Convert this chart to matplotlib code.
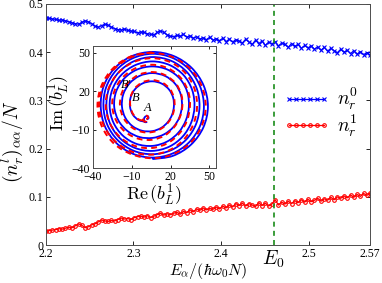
import matplotlib.pyplot as plt
import numpy as np
from matplotlib.path import Path
from matplotlib.patches import PathPatch

plt.rcParams['mathtext.fontset'] = 'cm'
plt.rcParams['font.family'] = 'Liberation Serif'

# main panel: occupation vs energy
e_min, e_max = 2.2, 2.57
n_r0 = [0.471, 0.470, 0.469, 0.468, 0.466, 0.467, 0.465, 0.463, 0.461, 0.459,
        0.458, 0.462, 0.465, 0.463, 0.459, 0.454, 0.452, 0.455, 0.458, 0.456,
        0.452, 0.449, 0.447, 0.446, 0.448, 0.445, 0.444, 0.443, 0.440, 0.442,
        0.441, 0.438, 0.437, 0.436, 0.441, 0.444, 0.441, 0.436, 0.433, 0.432,
        0.435, 0.433, 0.437, 0.431, 0.434, 0.429, 0.432, 0.427, 0.430, 0.426,
        0.431, 0.425, 0.428, 0.424, 0.429, 0.422, 0.427, 0.421, 0.426, 0.423,
        0.419, 0.427, 0.421, 0.416, 0.425, 0.418, 0.423, 0.414, 0.421, 0.417,
        0.422, 0.413, 0.419, 0.416, 0.410, 0.418, 0.412, 0.416, 0.408, 0.414,
        0.409, 0.413, 0.406, 0.411, 0.404, 0.410, 0.402, 0.408, 0.403, 0.399,
        0.406, 0.400, 0.404, 0.397, 0.403, 0.396, 0.401, 0.395, 0.399, 0.394]
n_r1 = [0.029, 0.030, 0.031, 0.032, 0.034, 0.033, 0.035, 0.037, 0.036, 0.040,
        0.044, 0.041, 0.036, 0.038, 0.042, 0.044, 0.048, 0.052, 0.050, 0.049,
        0.051, 0.050, 0.053, 0.056, 0.054, 0.055, 0.053, 0.057, 0.059, 0.060,
        0.058, 0.061, 0.057, 0.060, 0.063, 0.066, 0.062, 0.065, 0.063, 0.066,
        0.068, 0.064, 0.070, 0.067, 0.073, 0.069, 0.075, 0.072, 0.077, 0.073,
        0.076, 0.074, 0.079, 0.075, 0.081, 0.077, 0.083, 0.079, 0.086, 0.082,
        0.087, 0.081, 0.086, 0.083, 0.080, 0.088, 0.082, 0.087, 0.081, 0.085,
        0.094, 0.083, 0.089, 0.085, 0.091, 0.086, 0.092, 0.088, 0.094, 0.089,
        0.095, 0.090, 0.093, 0.097, 0.091, 0.096, 0.093, 0.099, 0.094, 0.100,
        0.097, 0.102, 0.098, 0.104, 0.099, 0.105, 0.101, 0.107, 0.103, 0.108]
energy = np.linspace(e_min, e_max, len(n_r0))
E0 = 2.46
xticks = [2.2, 2.3, 2.4, 2.5, 2.57]
xticklabels = ['2.2', '2.3', '2.4', '2.5', '2.57']
yticks = [0, 0.1, 0.2, 0.3, 0.4, 0.5]
yticklabels = ['0', '0.1', '0.2', '0.3', '0.4', '0.5']

# inset: trajectories in the b_L^1 plane, radius read every 22.5 deg (clockwise)
center = (6.0, 8.0)
start_angle = 247.5
blue_r = [13, 15, 16.4, 17.3, 18.2, 19, 19.5, 19.6, 19.2, 18.4, 17.4, 16.6, 16.5, 17, 18, 19.2,
          20.5, 21.7, 22.7, 23.5, 24.4, 25.2, 25.8, 26, 25.7, 24.9, 23.8, 22.8, 22.5, 22.8, 23.5, 24.5,
          25.8, 27.1, 28.4, 29.5, 30.3, 30.8, 31.1, 31.2, 31, 30.3, 29.2, 28.2, 28, 28.6, 29.6, 30.7,
          31.6, 32.2, 32.6, 33, 33.6, 34.3, 34.8, 35.1, 34.9, 34.3, 33.3, 32.5, 32.5, 33.1, 33.9, 34.6,
          35, 35.2, 35.3, 35.5, 36.3, 37.2, 38, 38.5, 38.4, 37.8, 37, 36.4, 36.4, 36.7, 37, 37.2,
          37.4, 37.5, 37.6, 37.8, 38.7, 39.7, 40.5, 41, 40.9, 40.5, 40, 39.8, 39.8, 39.8, 39.8, 39.8,
          39.8, 39.8, 39.8, 39.9, 40.8, 41.7, 42.3, 42.5, 42.6, 42.7, 42.8, 42.9, 42.6, 42.1, 41.6, 41]
red_r = [12, 14.5, 16, 17, 18.3, 19.5, 20.3, 20.5, 20.1, 19.2, 18, 17.1, 16.9, 17.4, 18.5, 19.9,
         21.4, 22.8, 24, 25, 25.8, 26.4, 26.8, 26.8, 26.3, 25.4, 24.2, 23.1, 22.8, 23.3, 24.5, 25.9,
         27.3, 28.7, 30, 31, 31.7, 32.2, 32.5, 32.5, 32.1, 31.2, 30, 29, 28.9, 29.6, 30.9, 32.3,
         33.5, 34.5, 35.3, 36, 36.6, 37.1, 37.5, 37.6, 37.2, 36.4, 35.3, 34.5, 34.5, 35.3, 36.4, 37.5,
         38.5, 39.5, 40.3, 41, 41.3, 41.5, 41.6, 41.6, 41.5, 41.4, 41.3, 41.2, 41, 40.8, 40.5, 40.3,
         40.5, 41.4, 42, 42.4, 42.5, 42.5, 42.4, 42.2]
# small curl around point A
blue_curl_x = [1.7, 3.0, 2.6, 1.0, -0.3, -0.4, 0.5]
blue_curl_y = [-2.1, -1.2, 0.3, 0.4, -1.0, -3.0, -4.2]
red_curl_x = [1.2, 2.6, 2.2, 0.5, -0.8, -0.9, 0.0]
red_curl_y = [-1.8, -1.0, 0.6, 0.7, -0.7, -2.8, -3.9]
inset_ticks = [-40, -10, 20, 50]
point_labels = ['A', 'B', "B'"]
point_x = [2.5, -6.5, -14.3]
point_y = [6.5, 14.5, 25.0]


def spiral_xy(radii, curl_x, curl_y):
    ang = np.deg2rad(start_angle - 22.5 * np.arange(len(radii)))
    x = center[0] + np.array(radii) * np.cos(ang)
    y = center[1] + np.array(radii) * np.sin(ang)
    return np.concatenate([curl_x, x]), np.concatenate([curl_y, y])


def smooth_path(x, y):
    # cubic bezier through the read points (catmull-rom tangents)
    p = np.column_stack([x, y])
    ext = np.vstack([p[0], p, p[-1]])
    verts = [p[0]]
    codes = [Path.MOVETO]
    for i in range(len(p) - 1):
        c1 = ext[i + 1] + (ext[i + 2] - ext[i]) / 6
        c2 = ext[i + 2] - (ext[i + 3] - ext[i + 1]) / 6
        verts += [c1, c2, p[i + 1]]
        codes += [Path.CURVE4] * 3
    return Path(verts, codes)


fig = plt.figure(figsize=(3.82, 2.83), dpi=100)
ax = fig.add_axes([0.120, 0.134, 0.849, 0.852])

ax.plot(energy, n_r0, color='blue', marker='x', markersize=3, lw=0.9,
        markeredgewidth=0.8, label='$n_r^0$')
ax.plot(energy, n_r1, color='red', marker='o', markersize=2.6, lw=0.9,
        markerfacecolor='none', markeredgewidth=0.8, label='$n_r^1$')
ax.axvline(E0, color='#1a8c1a', ls='--', lw=1.2, dashes=(3, 2.5))

ax.set_xlim(e_min, e_max)
ax.set_ylim(0, 0.5)
ax.set_xticks(xticks)
ax.set_xticklabels(xticklabels)
ax.set_yticks(yticks)
ax.set_yticklabels(yticklabels)
ax.tick_params(direction='in', top=True, right=True, labelsize=8.5, length=3, width=0.6, pad=2)
for s in ax.spines.values():
    s.set_linewidth(0.7)
    s.set_color('0.3')
ax.text(E0, -0.058, '$E_0$', ha='center', va='center', fontsize=14,
        transform=ax.get_xaxis_transform())
ax.set_xlabel(r'$E_\alpha/(\hbar\omega_0 N)$', fontsize=11.5)
ax.xaxis.set_label_coords(0.5, -0.064)
ax.set_ylabel(r'$(n_r^l)_{\alpha\alpha}/N$', fontsize=14)
ax.yaxis.set_label_coords(-0.065, 0.43)

leg = ax.legend(loc='center right', bbox_to_anchor=(1.0, 0.55), frameon=False, fontsize=14,
                numpoints=6, handlelength=2.4, handletextpad=0.4, labelspacing=0.0,
                borderaxespad=0.2)

# inset
ins = fig.add_axes([0.243, 0.406, 0.322, 0.431])
bx, by = spiral_xy(blue_r, blue_curl_x, blue_curl_y)
rx, ry = spiral_xy(red_r, red_curl_x, red_curl_y)
ins.add_patch(PathPatch(smooth_path(bx, by), fill=False, edgecolor='blue', lw=1.3))
ins.add_patch(PathPatch(smooth_path(rx, ry), fill=False, edgecolor='red', lw=1.4,
                        linestyle=(0, (3, 2.2))))
for lab, px, py in zip(point_labels, point_x, point_y):
    ins.text(px, py, lab, fontsize=9, ha='center', va='center', style='italic')
ins.set_xlim(-40, 55)
ins.set_ylim(-40, 55)
ins.set_xticks(inset_ticks)
ins.set_yticks(inset_ticks)
ins.tick_params(direction='in', top=True, right=True, labelsize=8.5, length=2.5, width=0.6, pad=2)
for s in ins.spines.values():
    s.set_linewidth(0.7)
    s.set_color('0.3')
ins.set_xlabel(r'$\mathrm{Re}\,(b_L^1)$', fontsize=13)
ins.xaxis.set_label_coords(0.5, -0.12)
ins.set_ylabel(r'$\mathrm{Im}\,(b_L^1)$', fontsize=13)
ins.yaxis.set_label_coords(-0.17, 0.53)

plt.savefig('out.png', dpi=100)
